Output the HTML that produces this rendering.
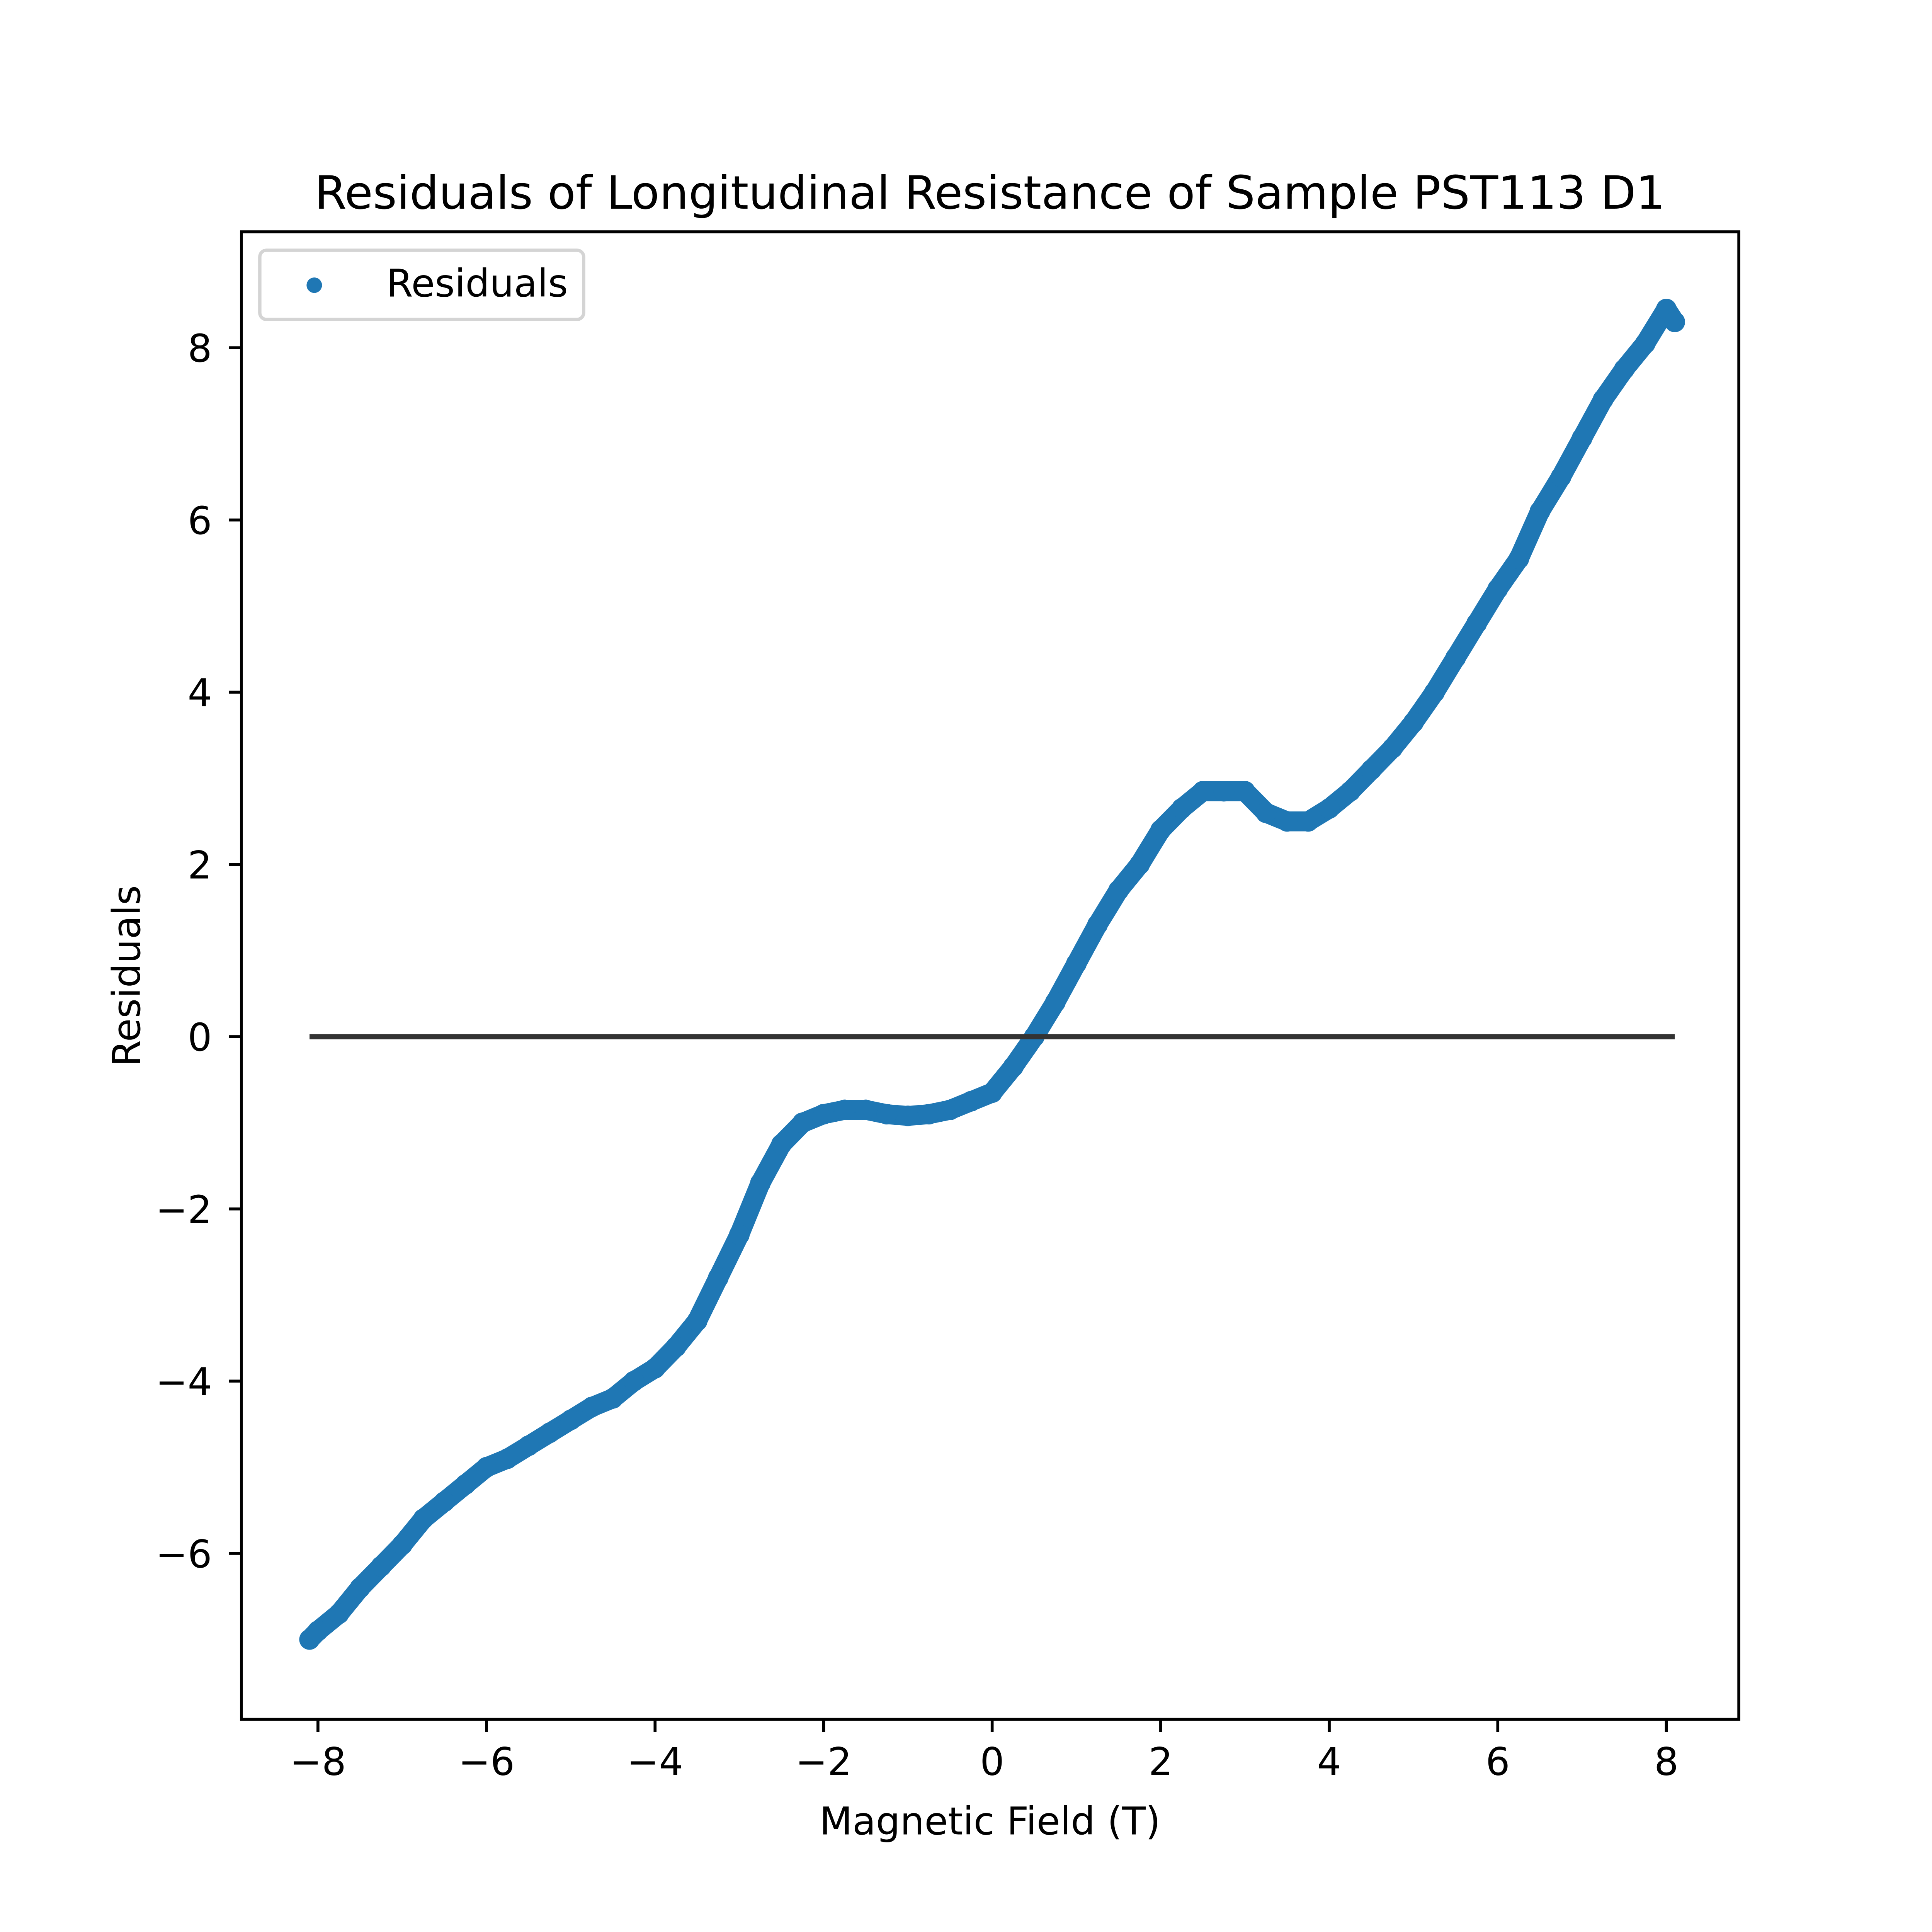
<!DOCTYPE html>
<html><head><meta charset="utf-8"><style>
html,body{margin:0;padding:0;background:#fff;width:5250px;height:5250px;overflow:hidden;}
svg{display:block;}
text{font-family:"DejaVu Sans","Liberation Sans",sans-serif;fill:#000;}
</style></head>
<body>
<svg id="chart" width="5250" height="5250" viewBox="0 0 5250 5250" xmlns="http://www.w3.org/2000/svg">
<rect width="5250" height="5250" fill="#fff"/>
<g transform="scale(0.9524)">
<text x="2690" y="567" font-size="125" text-anchor="middle">Residuals of Longitudinal Resistance of Sample PST113 D1</text>
<g id="plot"></g>
<g id="axes"></g>
<text x="2690" y="4985" font-size="104" text-anchor="middle">Magnetic Field (T)</text>
<text transform="translate(380,2652) rotate(-90)" font-size="104" text-anchor="middle">Residuals</text>
<g>
<rect x="706" y="680" width="880" height="188" rx="18" fill="#fff" stroke="#d4d4d4" stroke-width="9"/>
<circle cx="854" cy="775" r="21" fill="#1f77b4"/>
<text x="1050" y="806" font-size="104">Residuals</text>
</g>
</g>
</svg>
<script>
const fieldValues = [-8.1,-8,-7.75,-7.5,-7.25,-7,-6.75,-6.5,-6.25,-6,-5.75,-5.5,-5.25,-5,-4.75,-4.5,-4.25,-4,-3.75,-3.5,-3.25,-3,-2.75,-2.5,-2.25,-2,-1.75,-1.5,-1.25,-1,-0.75,-0.5,-0.25,0,0.25,0.5,0.75,1,1.25,1.5,1.75,2,2.25,2.5,2.75,3,3.25,3.5,3.75,4,4.25,4.5,4.75,5,5.25,5.5,5.75,6,6.25,6.5,6.75,7,7.25,7.5,7.75,8,8.1];
const residualValues = [-7.0,-6.9,-6.7,-6.4,-6.15,-5.9,-5.6,-5.4,-5.2,-5.0,-4.9,-4.75,-4.6,-4.45,-4.3,-4.2,-4.0,-3.85,-3.6,-3.3,-2.8,-2.3,-1.7,-1.25,-1.0,-0.9,-0.85,-0.85,-0.9,-0.92,-0.9,-0.85,-0.75,-0.65,-0.35,0.0,0.4,0.85,1.3,1.7,2.0,2.4,2.65,2.85,2.85,2.85,2.6,2.5,2.5,2.65,2.85,3.1,3.35,3.65,4.0,4.4,4.8,5.2,5.55,6.1,6.5,6.95,7.4,7.75,8.05,8.45,8.3];
const xTicks = [-8,-6,-4,-2,0,2,4,6,8];
const yTicks = [-6,-4,-2,0,2,4,6,8];
const zeroLine = [-8.1, 8.1];

const L=656,R=4725,T=630,B=4672;
const sx = v => 2696 + v*229;
const sy = v => 2817 - v*234;
const NS="http://www.w3.org/2000/svg";
const plot=document.getElementById('plot'), axes=document.getElementById('axes');
function mk(tag,attrs,parent){const e=document.createElementNS(NS,tag);for(const k in attrs)e.setAttribute(k,attrs[k]);parent.appendChild(e);return e;}

const band = mk('polyline',{points:fieldValues.map((x,i)=>sx(x)+','+sy(residualValues[i])).join(' '),fill:'none',stroke:'#1f77b4','stroke-width':54,'stroke-linejoin':'round','stroke-linecap':'round'},plot);


fieldValues.forEach((x,i)=>{
  const c=mk('circle',{cx:sx(x),cy:sy(residualValues[i]),r:28,fill:'#1f77b4'},plot);
  
  
});
const zl=mk('line',{x1:sx(zeroLine[0]),x2:sx(zeroLine[1]),y1:sy(0),y2:sy(0),stroke:'#333333','stroke-width':14},plot);



const frame=mk('rect',{x:L,y:T,width:R-L,height:B-T,fill:'none',stroke:'#000','stroke-width':8},axes);


xTicks.forEach(v=>{
  const t=mk('line',{x1:sx(v),x2:sx(v),y1:B,y2:B+34,stroke:'#000','stroke-width':8},axes);
  
  
  const tx=mk('text',{x:sx(v),y:4823,'font-size':104,'text-anchor':'middle'},axes);
  tx.textContent=(v<0?'\u2212':'')+Math.abs(v);
  
  
});
yTicks.forEach(v=>{
  const t=mk('line',{x1:L-34,x2:L,y1:sy(v),y2:sy(v),stroke:'#000','stroke-width':8},axes);
  
  
  const tx=mk('text',{x:576,y:sy(v)+38,'font-size':104,'text-anchor':'end'},axes);
  tx.textContent=(v<0?'\u2212':'')+Math.abs(v);
  
  
});
</script>
</body></html>
